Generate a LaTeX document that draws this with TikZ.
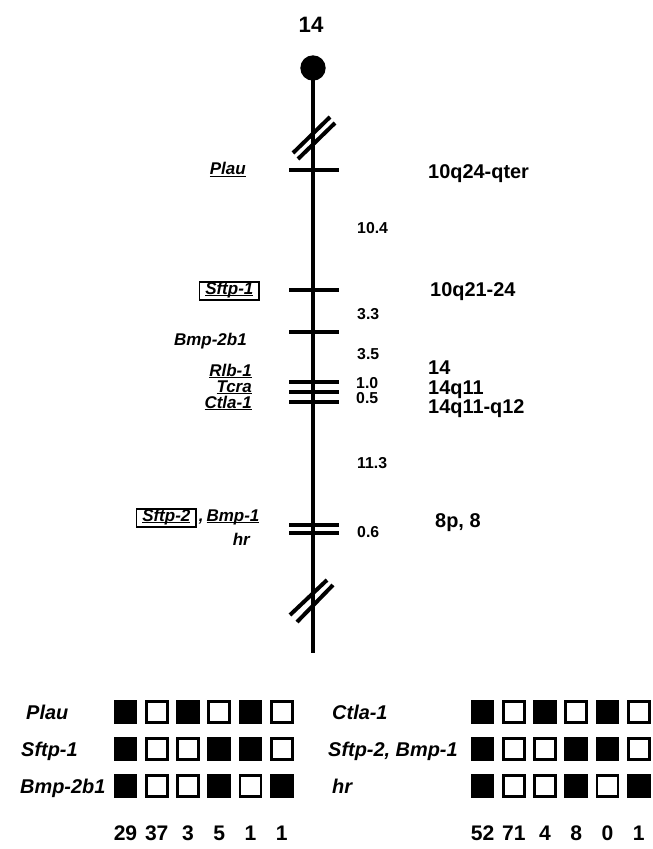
\documentclass[tikz,border=0pt]{standalone}
\usepackage{fontspec}
\setmainfont{Liberation Sans}
\usetikzlibrary{positioning}
\newcommand{\genul}[1]{\setbox0=\hbox{#1}\rlap{\rule[-2pt]{\wd0}{1.1pt}}\box0}

\begin{document}
\begin{tikzpicture}[x=0.03cm,y=-0.03cm,
  chrom/.style={line width=3.8pt},
  tick/.style={line width=3.3pt},
  brk/.style={line width=3.4pt},
  gene/.style={font=\fontsize{14.5}{16}\selectfont\bfseries\itshape,inner sep=0pt,anchor=base east},
  boxed/.style={draw,line width=1.3pt,inner xsep=5pt,inner ysep=3pt,text height=0.72em,text depth=0.22em},
  dist/.style={font=\fontsize{13.5}{15}\selectfont\bfseries,inner sep=0pt,anchor=base west},
  band/.style={font=\fontsize{17}{19}\selectfont\bfseries,inner sep=0pt,anchor=base west},
  key/.style={font=\fontsize{17}{19}\selectfont\bfseries\itshape,inner sep=0pt,anchor=base west},
  count/.style={font=\fontsize{18}{20}\selectfont\bfseries,inner sep=0pt,anchor=base},
  cell0/.style={draw,fill=white,line width=2.2pt,minimum size=0.63cm,inner sep=0pt},
  cell1/.style={draw,fill=black,line width=2.2pt,minimum size=0.63cm,inner sep=0pt}]
  \useasboundingbox (0,0) rectangle (653,849);

  % chromosome
  \node[font=\fontsize{19}{21}\selectfont\bfseries,inner sep=0pt,anchor=base] (title) at (311,33) {14};
  \node[circle,fill,minimum size=0.76cm,inner sep=0pt] (cen) at (313,68) {};
  \coordinate (qter) at (313,653);
  \draw[chrom] (cen.center) -- (qter);
  \draw[brk] (293,153) -- (330,117);
  \draw[brk] (298,159) -- (335,123);
  \draw[brk] (290,615) -- (327,580);
  \draw[brk] (297,622) -- (333,585);
  \foreach \y in {170,290,332,382,392,402,525,533}
    \draw[tick] (289,\y) -- (339,\y);

  % loci
  \node[gene] (plau) at (246,175) {\genul{Plau}};
  \node[gene,boxed] (sftp1) at (260,294) {\genul{Sftp-1}};
  \node[gene] (bmp2b1) at (247,345) {Bmp-2b1};
  \node[gene] (rlb1) at (252,376) {\genul{Rlb-1}};
  \node[gene] (tcra) at (252,392) {\genul{Tcra}};
  \node[gene] (ctla1) at (252,408) {\genul{Ctla-1}};
  \node[gene,boxed] (sftp2) at (197,521) {\genul{Sftp-2}};
  \node[gene,anchor=base west] (bmp1) at ([xshift=1.5pt]sftp2.base east) {,\,\genul{Bmp-1}};
  \node[gene] (hr) at (250,545) {hr};

  % distances
  \node[dist] (d1) at (357,233) {10.4};
  \node[dist] (d2) at (357,319) {3.3};
  \node[dist] (d3) at (357,359) {3.5};
  \node[dist] (d4) at (356,388) {1.0};
  \node[dist] (d5) at (356,403) {0.5};
  \node[dist] (d6) at (357,468) {11.3};
  \node[dist] (d7) at (357,537) {0.6};

  % human map positions
  \node[band] (h1) at (428,178) {10q24-qter};
  \node[band] (h2) at (430,296) {10q21-24};
  \node[band] (h3) at (428,374) {14};
  \node[band] (h4) at (428,394) {14q11};
  \node[band] (h5) at (428,413) {14q11-q12};
  \node[band] (h6) at (435,527) {8p, 8};

  % haplotypes
  \node[key] (k-plau) at (26,719) {Plau};
  \node[key] (k-sftp1) at (21,756) {Sftp-1};
  \node[key] (k-bmp2b1) at (20,793) {Bmp-2b1};
  \node[key] (k-ctla1) at (332,719) {Ctla-1};
  \node[key] (k-sftp2) at (328,756) {Sftp-2, Bmp-1};
  \node[key] (k-hr) at (332,793) {hr};
  \foreach \xo/\side in {125.5/l,482.5/r}
    \foreach \pat [count=\r] in {{1,0,1,0,1,0},{1,0,0,1,1,0},{1,0,0,1,0,1}}
      \foreach \v [count=\c] in \pat
        \node[cell\v] (\side-\r-\c) at ({\xo+31.25*(\c-1)},{712+37*(\r-1)}) {};
  \foreach \n [count=\c] in {29,37,3,5,1,1}
    \node[count] (l-n\c) at ({125.5+31.25*(\c-1)},840) {\n};
  \foreach \n [count=\c] in {52,71,4,8,0,1}
    \node[count] (r-n\c) at ({482.5+31.25*(\c-1)},840) {\n};
\end{tikzpicture}
\end{document}
